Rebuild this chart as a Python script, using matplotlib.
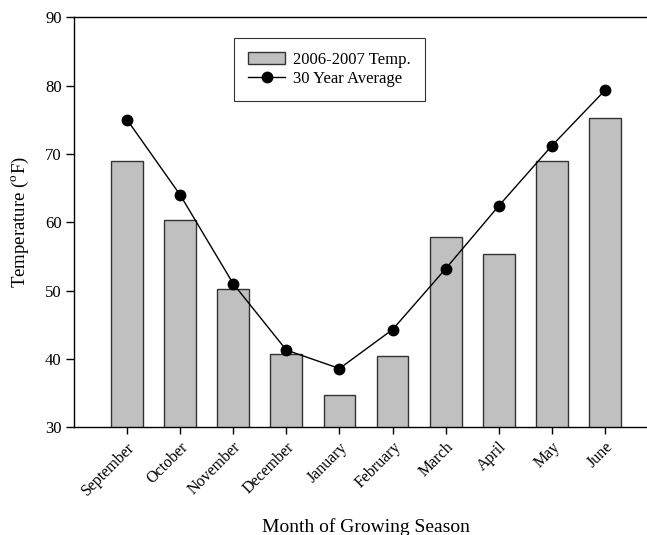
import matplotlib
matplotlib.use("Agg")
import matplotlib.pyplot as plt
import numpy as np

months = ["September", "October", "November", "December", "January",
          "February", "March", "April", "May", "June"]
temp_0607 = [69.0, 60.4, 50.2, 40.8, 34.8, 40.4, 57.9, 55.3, 68.9, 75.2]
avg_30yr = [75.0, 64.0, 51.0, 41.3, 38.6, 44.3, 53.2, 62.4, 71.2, 79.3]
yticks = [30, 40, 50, 60, 70, 80, 90]

plt.rcParams['font.family'] = ['Liberation Serif', 'DejaVu Serif']
plt.rcParams['mathtext.fontset'] = 'custom'
plt.rcParams['mathtext.rm'] = 'Liberation Serif'

fig = plt.figure(figsize=(6.47, 5.35), dpi=100)
ax = fig.add_axes([74/647, 107.7/535, 584/647, 410/535])

x = np.arange(len(months))
bars = ax.bar(x, temp_0607, width=0.6, bottom=0, color='#c0c0c0', edgecolor='#333333',
              linewidth=1.0, label='2006-2007 Temp.', zorder=2)
line, = ax.plot(x, avg_30yr, color='black', linewidth=1.0, marker='o', markersize=7.5,
                label='30 Year Average', zorder=3)

ax.set_xlim(-1, 10)
ax.set_ylim(30, 90)
ax.set_yticks(yticks)
ax.set_xticks(x)
ax.set_xticklabels(months, rotation=45, ha='right', rotation_mode='anchor', fontsize=11.5)
ax.tick_params(axis='y', labelsize=12, direction='out', length=6, width=1, pad=3)
ax.tick_params(axis='x', direction='out', length=5, width=1)
ax.spines['right'].set_visible(False)
for s in ['left', 'bottom', 'top']:
    ax.spines[s].set_linewidth(1.0)

fig.text(366/647, 2.5/535, 'Month of Growing Season', fontsize=14,
         ha='center', va='baseline')
fig.text(20/647, (535-222)/535, 'Temperature ($^{\\mathrm{o}}$F)', fontsize=13.5,
         ha='center', va='center', rotation=90)

leg = ax.legend([bars, line], ['2006-2007 Temp.', '30 Year Average'],
                loc='upper left', bbox_to_anchor=(0.274, 0.95), borderaxespad=0,
                fontsize=12, frameon=True, fancybox=False, edgecolor='black',
                handlelength=2.2, handletextpad=0.5, borderpad=0.85,
                labelspacing=0.2)
leg.get_frame().set_linewidth(0.8)

fig.savefig('out.png', dpi=100)
